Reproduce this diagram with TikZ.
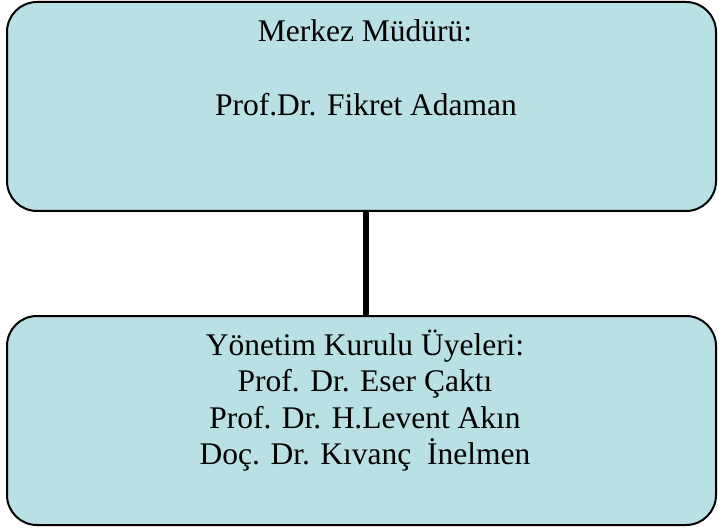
\documentclass[tikz,border=0pt]{standalone}
\usepackage{fontspec}
\setmainfont{Liberation Serif}
\definecolor{boxfill}{RGB}{185,224,228}
\begin{document}
\begin{tikzpicture}[x=1pt,y=-1pt,
  box/.style={draw=black, line width=2pt, fill=boxfill, rounded corners=30pt,
    minimum width=709pt, minimum height=209pt, inner sep=0pt},
  txt/.style={anchor=base, inner sep=0pt, font=\fontsize{31.5}{36}\selectfont},
  link/.style={line width=6pt}]
\useasboundingbox (0,0) rectangle (719,529);
\node[box] (top) at (361.5,106.5) {};
\node[box] (bottom) at (361.5,420.5) {};
\draw[link] ([xshift=4.5pt]top.south) -- ([xshift=4.5pt]bottom.north);
\node[txt] (t1) at (365,42) {Merkez Müdürü:};
\node[txt] (t2) at (366,115.5) {Prof.Dr. Fikret Adaman};
\node[txt] (b1) at (365,355) {Yönetim Kurulu Üyeleri:};
\node[txt] (b2) at (365,391.5) {Prof. Dr. Eser Çaktı};
\node[txt] (b3) at (365,428) {Prof. Dr. H.Levent Akın};
\node[txt] (b4) at (365,464.5) {Doç. Dr. Kıvanç~ İnelmen};
\end{tikzpicture}
\end{document}
